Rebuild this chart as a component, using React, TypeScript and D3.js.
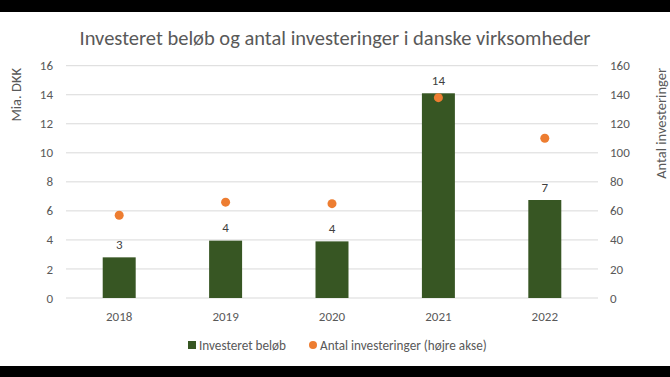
import React from "react";
import * as d3 from "d3";

const categories = ["2018", "2019", "2020", "2021", "2022"];
const amounts = [2.8, 3.95, 3.9, 14.1, 6.75];
const amountLabels = ["3", "4", "4", "14", "7"];
const counts = [57, 66, 65, 138, 110];
const leftTicks = [0, 2, 4, 6, 8, 10, 12, 14, 16];
const rightTicks = [0, 20, 40, 60, 80, 100, 120, 140, 160];

const W = 670;
const H = 377;
const FONT = "Carlito, Calibri, Lato, 'Open Sans', sans-serif";
const TXT = "#595959";

export default function App() {
  const left = 66, right = 598, top = 65.7, bottom = 298;
  const x = d3.scaleBand().domain(categories).range([left, right]).paddingInner(0.69).paddingOuter(0.345);
  const yL = d3.scaleLinear().domain([0, 16]).range([bottom, top]);
  const yR = d3.scaleLinear().domain([0, 160]).range([bottom, top]);
  const cx = (c: string) => (x(c) as number) + x.bandwidth() / 2;
  return (
    <svg width={W} height={H} style={{ position: "absolute", left: 0, top: 0, display: "block" }} fontFamily={FONT}>
      <rect x={0} y={0} width={W} height={H} fill="#000" />
      <rect x={0} y={12} width={W} height={354} fill="#fff" />
      <text x={335} y={45} textAnchor="middle" fontSize={20.5} fill={TXT}>
        Investeret beløb og antal investeringer i danske virksomheder
      </text>
      {leftTicks.map((t) => (
        <line key={t} x1={left} x2={right} y1={yL(t)} y2={yL(t)} stroke="#d9d9d9" strokeWidth={1} />
      ))}
      {leftTicks.map((t) => (
        <text key={"l" + t} x={53} y={yL(t)} dy="0.35em" textAnchor="end" fontSize={13} fill={TXT}>{t}</text>
      ))}
      {rightTicks.map((t) => (
        <text key={"r" + t} x={610} y={yR(t)} dy="0.35em" textAnchor="start" fontSize={13} fill={TXT}>{t}</text>
      ))}
      <text transform={`translate(21,68) rotate(-90)`} textAnchor="end" fontSize={14.5} fill={TXT}>Mia. DKK</text>
      <text transform={`translate(666,68) rotate(-90)`} textAnchor="end" fontSize={14.5} fill={TXT}>Antal investeringer</text>
      {categories.map((c, i) => (
        <rect key={c} x={x(c)} y={yL(amounts[i])} width={x.bandwidth()} height={bottom - yL(amounts[i])} fill="#375623" />
      ))}
      {categories.map((c, i) => (
        <text key={"v" + c} x={cx(c)} y={yL(amounts[i]) - 13} dy="0.35em" textAnchor="middle" fontSize={13} fill="#404040">{amountLabels[i]}</text>
      ))}
      {categories.map((c, i) => (
        <circle key={"d" + c} cx={cx(c)} cy={yR(counts[i])} r={4.5} fill="#ED7D31" />
      ))}
      {categories.map((c) => (
        <text key={"x" + c} x={cx(c)} y={316} dy="0.35em" textAnchor="middle" fontSize={13} fill={TXT}>{c}</text>
      ))}
      <rect x={188} y={341} width={8} height={8} fill="#375623" />
      <text x={199} y={345} dy="0.35em" fontSize={13.2} fill={TXT}>Investeret beløb</text>
      <circle cx={313} cy={345} r={4} fill="#ED7D31" />
      <text x={320} y={345} dy="0.35em" fontSize={13.2} fill={TXT}>Antal investeringer (højre akse)</text>
    </svg>
  );
}
